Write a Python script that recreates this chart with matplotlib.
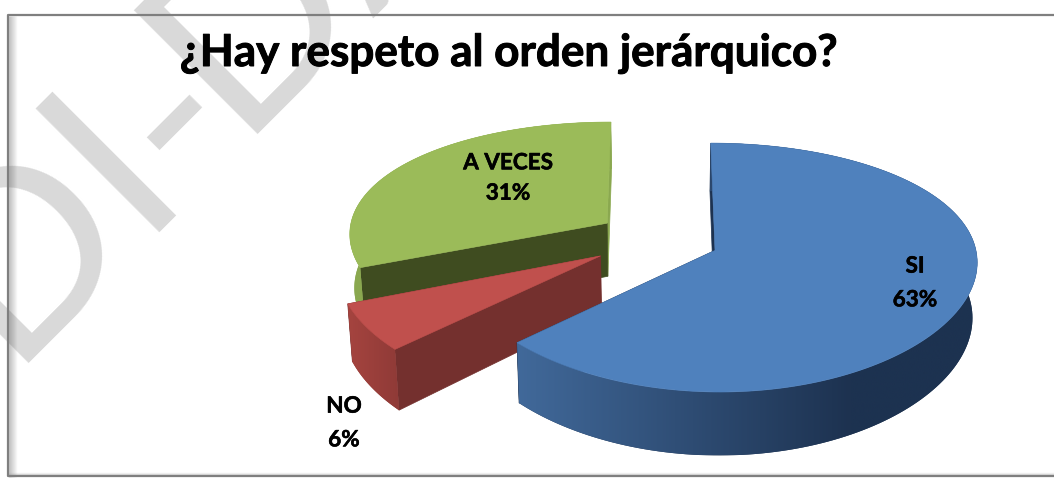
import numpy as np
import matplotlib
matplotlib.use("Agg")
import matplotlib.pyplot as plt
import matplotlib.patheffects as pe
from matplotlib.patches import Polygon
from matplotlib.colors import to_rgb

# ---- data ----
categories = ["SI", "NO", "A VECES"]
values = [63, 6, 31]
labels = ["SI\n63%", "NO\n6%", "A VECES\n31%"]
title = "¿Hay respeto al orden jerárquico?"
watermark_parts = ["DI", "-", "DA"]

# ---- styles / layout ----
W, H = 1054, 479
top_cols = ["#4F81BD", "#C0504D", "#9BBB59"]
start_face = ["#1D3250", "#74302E", "#3F4C20"]
end_face = ["#1D3250", "#74302E", "#8AA84F"]
rim_left = ["#41699A", "#A5443F", "#8AA84F"]
rim_right = ["#1D3250", "#8F3A37", "#8AA84F"]
explode = [0.238, 0.26, 0.24]
label_pos = [(915, 283), (344, 423), (508, 178)]
label_spacing = [1.75, 1.75, 1.55]
watermark_pos = [(7, 363), (190, 195), (236, 134)]
CX, CY, RX, RY, PX, PY, DEPTH = 658, 239, 259, 119, 0.08, 0.136, 54

fig = plt.figure(figsize=(W / 100, H / 100), dpi=100, facecolor="white")
ax = fig.add_axes([0, 0, 1, 1])
ax.set_xlim(0, W)
ax.set_ylim(H, 0)
ax.axis("off")


def proj(u, v, lower=False):
    wx = 1 / (1 + PX * v)
    wy = 1 / (1 + PY * v)
    x = CX + RX * u * wx
    y = CY - RY * v * wy
    if lower:
        x = CX + (x - CX) * 0.985
        y = y + DEPTH * wy
    return np.column_stack([x, y])


# watermark, frame
for part, (wx_, wy_) in zip(watermark_parts, watermark_pos):
    ax.text(wx_, wy_, part, rotation=45, rotation_mode="anchor", ha="left", va="baseline",
            family="Lato", fontsize=176, color="#D9D9D9", zorder=1)
for i in range(8):
    ax.plot([9 + i, 9 + i], [16, 477], color="#606060", alpha=0.30 * (1 - i / 8), lw=1, zorder=2,
            solid_capstyle="butt")
ax.plot([W + 5, 7.5, 7.5, W + 5], [15, 15, 476, 476], color="#7F7F7F", lw=1.6, zorder=3)
for i in range(3):
    ax.plot([9, W], [474.5 - i, 474.5 - i], color="#A0A0A0", alpha=0.4 * (1 - i / 3), lw=1, zorder=2)

# exploded 3D pie, from the values
total = sum(values)
sweeps = [360 * val / total for val in values]
starts = np.cumsum([0] + sweeps[:-1])
order = [2, 1, 0]
for k, idx in enumerate(order):
    a0, a1 = np.radians(starts[idx]), np.radians(starts[idx] + sweeps[idx])
    mid = (a0 + a1) / 2
    au, av = explode[idx] * np.sin(mid), explode[idx] * np.cos(mid)
    th = np.linspace(a0, a1, 160)
    u, v = au + np.sin(th), av + np.cos(th)
    z = 10 + k * 5
    tp = proj(u, v)
    bt = proj(u, v, True)
    ap_t = proj(np.array([au]), np.array([av]))[0]
    ap_b = proj(np.array([au]), np.array([av]), True)[0]
    # radial faces
    ax.add_patch(Polygon([ap_t, tp[-1], bt[-1], ap_b], fc=end_face[idx], ec=end_face[idx], lw=0.5, zorder=z))
    ax.add_patch(Polygon([ap_t, tp[0], bt[0], ap_b], fc=start_face[idx], ec=start_face[idx], lw=0.5, zorder=z + 1))
    # outer rim, shaded left to right
    c0, c1 = np.array(to_rgb(rim_left[idx])), np.array(to_rgb(rim_right[idx]))
    x0 = min(tp[:, 0].min(), bt[:, 0].min())
    x1 = max(tp[:, 0].max(), bt[:, 0].max())
    y0 = min(tp[:, 1].min(), bt[:, 1].min())
    y1 = max(tp[:, 1].max(), bt[:, 1].max())
    xs = np.linspace(x0, x1, 256)
    span_end = 850 if idx == 0 else x1
    f = np.clip((xs - x0) / (span_end - x0), 0, 1)[None, :, None]
    grad = c0[None, None, :] + (c1 - c0)[None, None, :] * f
    rim = Polygon(np.vstack([tp, bt[::-1]]), fc=rim_right[idx], ec="none", zorder=z + 2)
    ax.add_patch(rim)
    im = ax.imshow(grad, extent=(x0, x1, y1, y0), aspect="auto", zorder=z + 2.5, interpolation="bilinear")
    im.set_clip_path(rim)
    # top
    ax.add_patch(Polygon(np.vstack([ap_t, tp]), fc=top_cols[idx], ec=top_cols[idx], lw=0.4, zorder=z + 3))
ax.set_xlim(0, W)
ax.set_ylim(H, 0)

# texts
ax.text(508, 66, title, family="Lato", weight="bold", fontsize=31.7, ha="center", va="baseline",
        color="black", zorder=40,
        path_effects=[pe.withStroke(linewidth=0.7, foreground="black")])
for lab, (x, y), sp in zip(labels, label_pos, label_spacing):
    ax.text(x, y, lab, family="Lato", weight="bold", fontsize=16.2, ha="center", va="center",
            color="black", linespacing=sp, zorder=40,
            path_effects=[pe.withStroke(linewidth=0.4, foreground="black")])

fig.savefig("out.png", dpi=100)
